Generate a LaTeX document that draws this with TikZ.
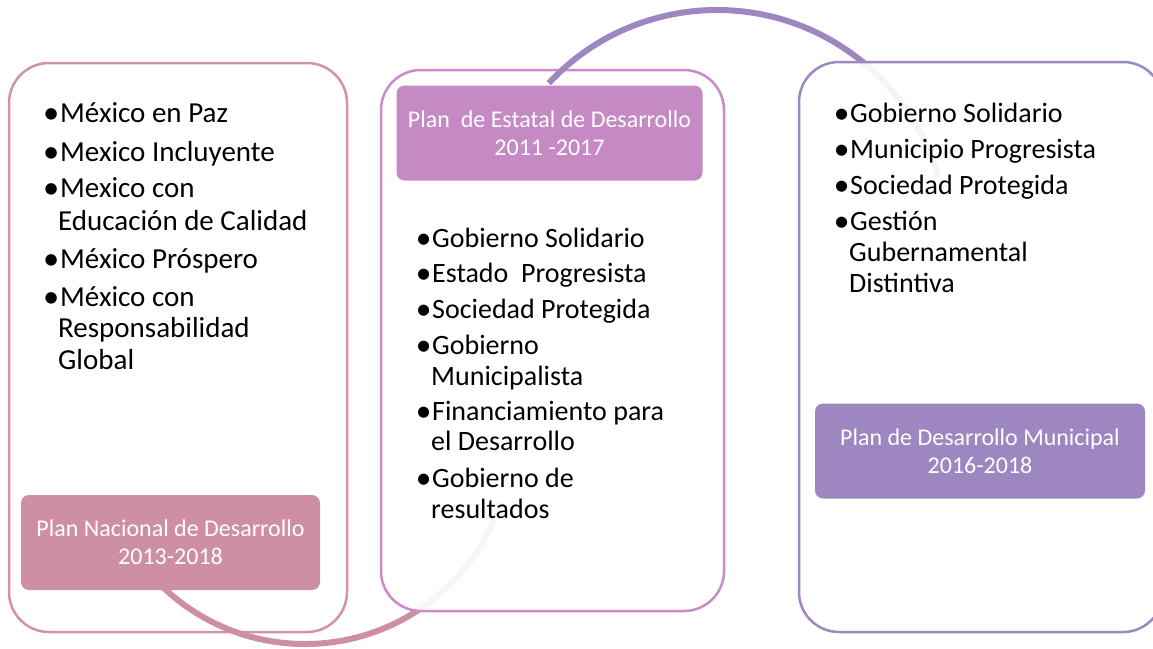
\documentclass[tikz,border=0pt]{standalone}
\usepackage{fontspec}
\setmainfont{Carlito}
\definecolor{pinkL}{HTML}{D094A8}
\definecolor{pinkF}{HTML}{CF8FA3}
\definecolor{magL}{HTML}{C98CC9}
\definecolor{magF}{HTML}{C589C4}
\definecolor{purL}{HTML}{9F87C2}
\definecolor{purF}{HTML}{9E86C0}
\newcommand\bul{\llap{\raisebox{-0.05em}{\scalebox{1.12}{\textbullet}}\hspace{0.8pt}}}
\begin{document}
\begin{tikzpicture}[x=1pt,y=-1pt,
  outerbox/.style={line width=2.5pt, rounded corners=40pt, fill=white, inner sep=0pt},
  labbox/.style={rounded corners=8pt, text=white, font=\fontsize{24}{28}\selectfont, align=center, inner sep=0pt},
  itemA/.style={anchor=base west, inner sep=0pt, font=\fontsize{29}{32}\selectfont},
  itemB/.style={anchor=base west, inner sep=0pt, font=\fontsize{28}{31}\selectfont},
  arcline/.style={line width=6pt}]
\useasboundingbox (0,0) rectangle (1153,648);
\clip (0,0) rectangle (1153,648);
\fill[white] (0,0) rectangle (1153,648);

% box 1
\node[outerbox, draw=pinkL, minimum width=338pt, minimum height=569pt] (b1) at (178,347.5) {};
\coordinate (c1) at (305,438);
\draw[arcline, pinkF] (c1) ++(135:206) arc[start angle=135, end angle=18, radius=206];
\node[labbox, fill=pinkF, minimum width=299pt, minimum height=95pt] (p1) at (170.5,542.5) {Plan Nacional de Desarrollo\\2013-2018};

% box 2
\node[outerbox, draw=magL, fill opacity=0.9, minimum width=343pt, minimum height=541pt] (b2) at (552.5,340.5) {};
\coordinate (c2) at (717,240);
\draw[arcline, purF] (c2) ++(-137:230) arc[start angle=-137, end angle=-16, radius=230];
\node[labbox, fill=magF, minimum width=306pt, minimum height=95pt] (p2) at (549.5,133) {Plan\ \ de Estatal de Desarrollo\\2011 -2017};

% box 3
\node[outerbox, draw=purL, fill opacity=0.9, minimum width=364pt, minimum height=570pt] (b3) at (981,347) {};
\node[labbox, fill=purF, minimum width=330pt, minimum height=95pt] (p3) at (980,451) {Plan de Desarrollo Municipal\\2016-2018};

% box 1 items
\node[itemA] (a1) at (60,122) {\bul México en Paz};
\node[itemA] (a2) at (60,161) {\bul Mexico Incluyente};
\node[itemA] (a3) at (60,197) {\bul Mexico con};
\node[itemA] (a3b) at (58,230) {Educación de Calidad};
\node[itemA] (a4) at (60,268) {\bul México Próspero};
\node[itemA] (a5) at (60,306) {\bul México con};
\node[itemA] (a5b) at (58,337) {Responsabilidad};
\node[itemA] (a5c) at (58,369) {Global};

% box 2 items
\node[itemB] (m1) at (432,247) {\bul Gobierno Solidario};
\node[itemB] (m2) at (432,282) {\bul Estado\ \ Progresista};
\node[itemB] (m3) at (432,318) {\bul Sociedad Protegida};
\node[itemB] (m4) at (432,354) {\bul Gobierno};
\node[itemB] (m4b) at (431,385) {Municipalista};
\node[itemB] (m5) at (432,420) {\bul Financiamiento para};
\node[itemB] (m5b) at (431,450) {el Desarrollo};
\node[itemB] (m6) at (432,487) {\bul Gobierno de};
\node[itemB] (m6b) at (431,518) {resultados};

% box 3 items
\node[itemB] (r1) at (850,122) {\bul Gobierno Solidario};
\node[itemB] (r2) at (850,158) {\bul Municipio Progresista};
\node[itemB] (r3) at (850,194) {\bul Sociedad Protegida};
\node[itemB] (r4) at (850,230) {\bul Gestión};
\node[itemB] (r4b) at (849,261) {Gubernamental};
\node[itemB] (r4c) at (849,292) {Distintiva};
\end{tikzpicture}
\end{document}
